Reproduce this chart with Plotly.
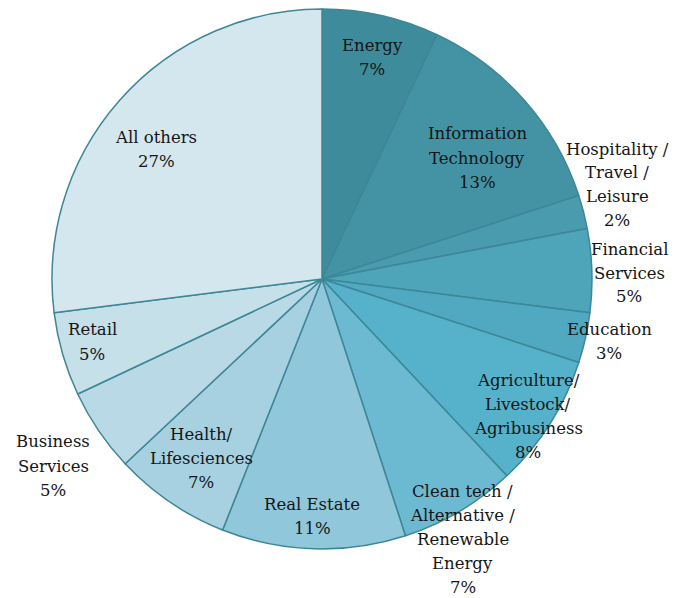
import plotly.graph_objects as go

labels = ["Energy", "Information<br>Technology", "Hospitality /<br>Travel /<br>Leisure",
          "Financial<br>Services", "Education", "Agriculture/<br>Livestock/<br>Agribusiness",
          "Clean tech /<br>Alternative /<br>Renewable<br>Energy", "Real Estate",
          "Health/<br>Lifesciences", "Business<br>Services", "Retail", "All others"]
values = [7, 13, 2, 5, 3, 8, 7, 11, 7, 5, 5, 27]
colors = ["#3e8b9b", "#4493a4", "#4a9bad", "#4ea4b8", "#50a9c0", "#56b2cb",
          "#6cbad1", "#90c7db", "#a7d1e0", "#b8d9e5", "#c6e0e9", "#d4e7ef"]
# label block centers in reference pixels (x, y from top)
label_pos = [(372, 57), (477, 158), (617, 185), (629, 273), (609, 341), (528, 416),
             (463, 539), (312, 516), (201, 458), (53, 466), (92, 342), (156, 149)]

OFF = 8  # page body margin
W, H = 680, 590
cx, cy, r = 322 - OFF, 279 - OFF, 270

fig = go.Figure(go.Pie(
    labels=[l.replace("<br>", " ") for l in labels], values=values, sort=False,
    direction="clockwise", rotation=0, textinfo="none", hoverinfo="label+percent",
    marker=dict(colors=colors, line=dict(color="#3d8797", width=1.5)),
    domain=dict(x=[(cx - r) / W, (cx + r) / W], y=[(H - cy - r) / H, (H - cy + r) / H]),
    showlegend=False,
))

LH = 24
annotations = []
for lab, val, (px, py) in zip(labels, values, label_pos):
    lines = lab.split("<br>") + [f"{val}%"]
    n = len(lines)
    for i, line in enumerate(lines):
        ly = py - OFF + (i - (n - 1) / 2) * LH
        annotations.append(dict(
            x=(px - OFF) / W, y=1 - ly / H, xref="paper", yref="paper", text=line,
            showarrow=False, xanchor="center", yanchor="middle",
            font=dict(family="DejaVu Serif", size=16.5, color="#151515"),
        ))

fig.update_layout(width=W, height=H, margin=dict(l=0, r=0, t=0, b=0),
                  paper_bgcolor="white", plot_bgcolor="white", annotations=annotations)
fig.write_html("out.html")
